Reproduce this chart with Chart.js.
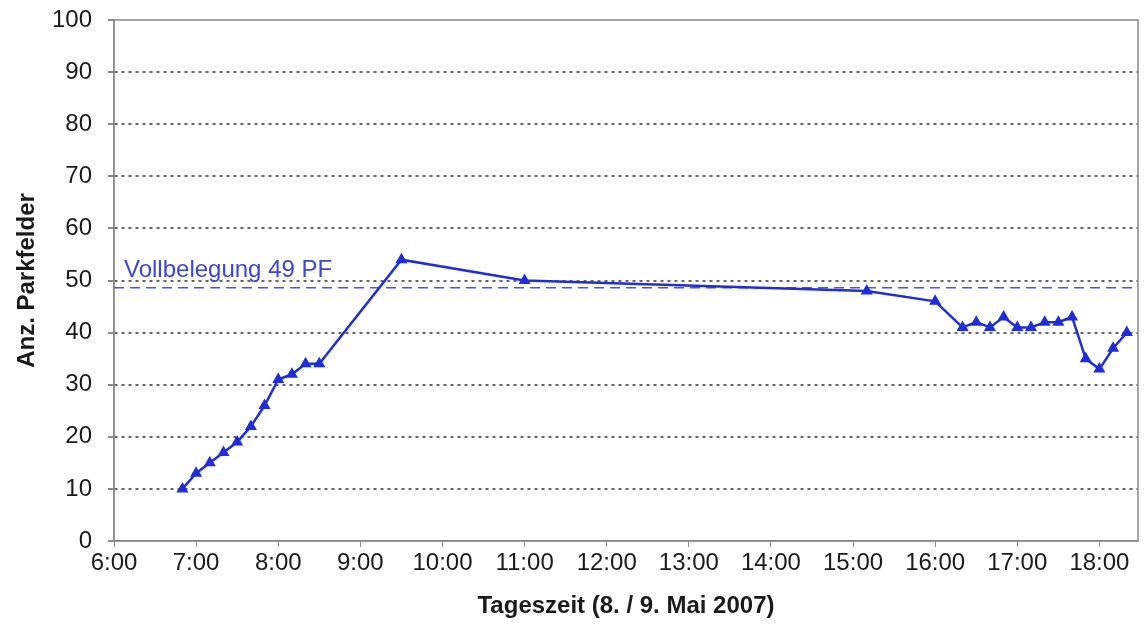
<!DOCTYPE html>
<html>
<head>
<meta charset="utf-8">
<script src="https://cdn.jsdelivr.net/npm/chart.js@4/dist/chart.umd.min.js"></script>
<style>
  body { margin: 0; background: white; }
  #grafico { display: block; }
</style>
</head>
<body>
<canvas id="grafico" width="1145" height="638"></canvas>
<script>
// Daten aus der Zählung
var zeiten = ['6:50', '7:00', '7:10', '7:20', '7:30', '7:40', '7:50', '8:00', '8:10', '8:20', '8:30',
    '9:30', '11:00', '15:10', '16:00', '16:20', '16:30', '16:40', '16:50', '17:00', '17:10',
    '17:20', '17:30', '17:40', '17:50', '18:00', '18:10', '18:20'];
var belegung = [10, 13, 15, 17, 19, 22, 26, 31, 32, 34, 34,
    54, 50, 48, 46, 41, 42, 41, 43, 41, 41,
    42, 42, 43, 35, 33, 37, 40];
var vollbelegung = 48.6;
var vollText = 'Vollbelegung 49 PF';
var xMin = 6, xMax = 18.47;
var yMin = 0, yMax = 100;

function inStunden(t) {
    var teile = t.split(':');
    return parseInt(teile[0]) + parseInt(teile[1]) / 60;
}

var punkte = zeiten.map(function (t, i) {
    return { x: inStunden(t), y: belegung[i] };
});

var blau = '#1f2ed8';
var grau = '#8a8a8a';
var schrift = '"Liberation Sans", Arial, sans-serif';

// Rahmen und Beschriftung der Vollbelegung
var extras = {
    id: 'extras',
    beforeDatasetsDraw: function (chart) {
        var ctx = chart.ctx;
        var a = chart.chartArea;
        var xs = chart.scales.x, ys = chart.scales.y;
        ctx.save();
        ctx.strokeStyle = grau;
        ctx.lineWidth = 1.5;
        ctx.strokeRect(a.left, a.top, a.right - a.left, a.bottom - a.top);

        ctx.fillStyle = '#3a46d6';
        ctx.font = '24px ' + schrift;
        ctx.textBaseline = 'alphabetic';
        ctx.textAlign = 'left';
        ctx.fillText(vollText, xs.getPixelForValue(xMin) + 10, ys.getPixelForValue(vollbelegung) - 11);
        ctx.restore();
    }
};

var ctx = document.getElementById('grafico').getContext('2d');
var meinChart = new Chart(ctx, {
    type: 'line',
    data: {
        datasets: [{
            label: 'Belegung',
            data: punkte,
            borderColor: blau,
            backgroundColor: blau,
            borderWidth: 2.5,
            pointStyle: 'triangle',
            pointRadius: 4.5,
            pointBackgroundColor: blau,
            pointBorderColor: blau,
            tension: 0
        }, {
            label: 'Vollbelegung',
            data: [{ x: xMin, y: vollbelegung }, { x: xMax, y: vollbelegung }],
            borderColor: '#4b55e0',
            borderWidth: 1.5,
            borderDash: [10, 6],
            pointRadius: 0
        }]
    },
    options: {
        responsive: false,
        animation: false,
        layout: { padding: { top: 20, right: 4, left: 0, bottom: 0 } },
        plugins: {
            legend: { display: false },
            tooltip: { enabled: false }
        },
        scales: {
            x: {
                type: 'linear',
                min: xMin,
                max: xMax,
                afterFit: function (s) { s.height = 97; },
                grid: {
                    drawOnChartArea: false,
                    drawTicks: true,
                    tickLength: 6,
                    tickColor: grau
                },
                border: { display: true, color: grau, width: 1.5 },
                ticks: {
                    stepSize: 1,
                    includeBounds: false,
                    maxRotation: 0,
                    autoSkip: false,
                    padding: 2,
                    color: '#1a1a1a',
                    font: { family: schrift, size: 24 },
                    callback: function (v) { return Math.round(v) + ':00'; }
                },
                title: {
                    display: true,
                    text: 'Tageszeit (8. / 9. Mai 2007)',
                    color: '#1a1a1a',
                    padding: { top: 0, bottom: 17 },
                    font: { family: schrift, size: 24, weight: 'bold' }
                }
            },
            y: {
                min: yMin,
                max: yMax,
                afterFit: function (s) {
                    s.width = 114;
                    s.paddingTop = 0;
                    s.paddingBottom = 0;
                },
                grid: {
                    color: function (c) {
                        var v = c.tick.value;
                        return (v === yMin || v === yMax) ? 'rgba(0,0,0,0)' : '#666666';
                    },
                    lineWidth: 2,
                    tickLength: 6,
                    tickColor: grau,
                    tickBorderDash: []
                },
                border: { display: true, color: grau, width: 1.5, dash: [3, 4] },
                ticks: {
                    stepSize: 10,
                    padding: 16,
                    color: '#1a1a1a',
                    font: { family: schrift, size: 24 }
                },
                title: {
                    display: true,
                    text: 'Anz. Parkfelder',
                    color: '#1a1a1a',
                    padding: { top: 13, bottom: 0 },
                    font: { family: schrift, size: 24, weight: 'bold' }
                }
            }
        }
    },
    plugins: [extras]
});
</script>
</body>
</html>
